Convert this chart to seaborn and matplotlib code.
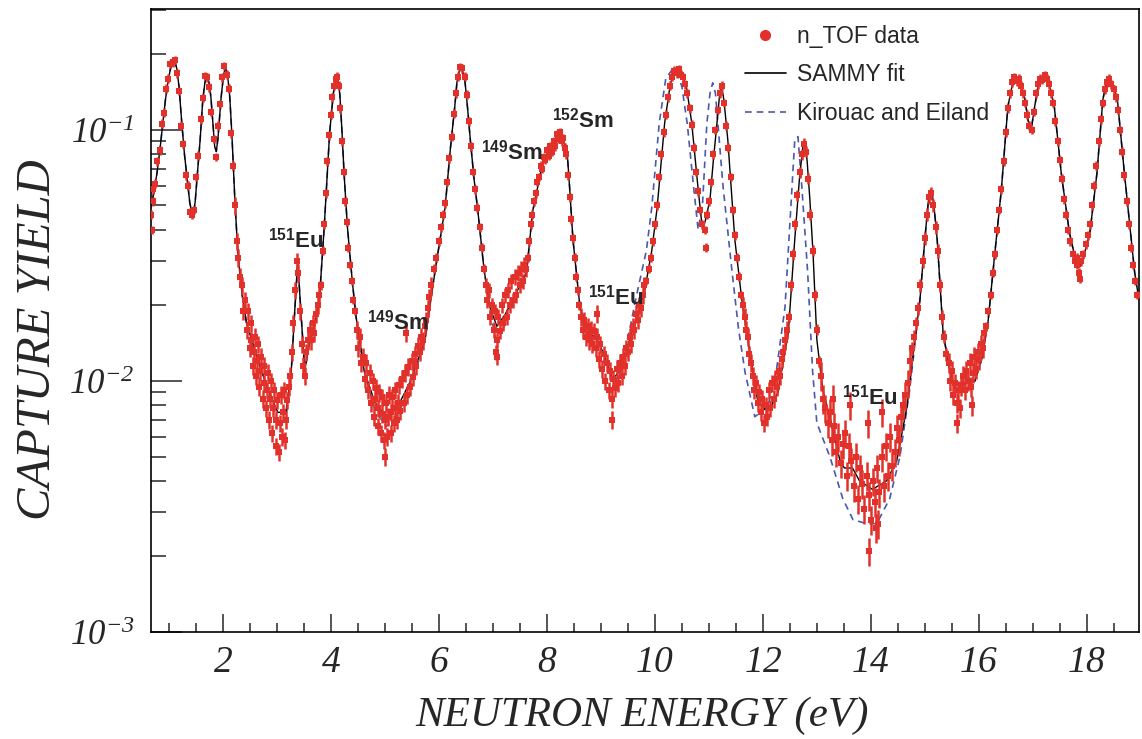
import numpy as np
import pandas as pd
import matplotlib
matplotlib.use("Agg")
import matplotlib.pyplot as plt
import seaborn as sns
from matplotlib.lines import Line2D
from matplotlib.ticker import FixedLocator, MultipleLocator, FuncFormatter, NullFormatter

# ---------------- data ----------------
# SAMMY fit (energy eV, capture yield)
sammy = [(0.65, 0.048), (0.71, 0.056), (0.77, 0.067), (0.83, 0.085), (0.88, 0.107), (0.93, 0.133),
         (0.98, 0.158), (1.02, 0.175), (1.06, 0.187), (1.10, 0.188), (1.14, 0.175), (1.18, 0.148),
         (1.23, 0.107), (1.28, 0.080), (1.32, 0.067), (1.38, 0.051), (1.44, 0.045), (1.48, 0.052),
         (1.51, 0.063), (1.57, 0.091), (1.62, 0.132), (1.66, 0.155), (1.70, 0.165), (1.74, 0.152),
         (1.77, 0.135), (1.81, 0.105), (1.84, 0.086), (1.87, 0.082), (1.90, 0.092), (1.96, 0.135),
         (2.00, 0.162), (2.04, 0.177), (2.08, 0.165), (2.12, 0.135), (2.16, 0.095), (2.21, 0.055),
         (2.27, 0.032), (2.35, 0.022), (2.43, 0.017), (2.62, 0.0125), (2.81, 0.0095), (3.01, 0.0075),
         (3.16, 0.0075), (3.26, 0.011), (3.33, 0.020), (3.38, 0.030), (3.43, 0.020), (3.51, 0.011),
         (3.59, 0.014), (3.67, 0.016), (3.78, 0.021), (3.87, 0.041), (3.97, 0.097), (4.04, 0.140),
         (4.08, 0.158), (4.12, 0.162), (4.16, 0.138), (4.20, 0.098), (4.24, 0.066), (4.30, 0.041),
         (4.39, 0.025), (4.46, 0.018), (4.61, 0.011), (4.81, 0.0082), (5.02, 0.0072), (5.22, 0.0078),
         (5.47, 0.0100), (5.74, 0.0146), (5.92, 0.027), (6.11, 0.049), (6.21, 0.085), (6.29, 0.124),
         (6.33, 0.155), (6.38, 0.175), (6.43, 0.172), (6.48, 0.155), (6.53, 0.120), (6.58, 0.090),
         (6.65, 0.063), (6.72, 0.047), (6.83, 0.028), (6.94, 0.0197), (7.07, 0.0165), (7.23, 0.0185),
         (7.36, 0.021), (7.62, 0.027), (7.73, 0.047), (7.92, 0.074), (8.02, 0.081), (8.12, 0.088),
         (8.20, 0.094), (8.29, 0.092), (8.37, 0.083), (8.42, 0.058), (8.48, 0.0365), (8.61, 0.0197),
         (8.74, 0.0155), (8.89, 0.0150), (9.04, 0.0130), (9.22, 0.0101), (9.34, 0.0110), (9.53, 0.0146),
         (9.66, 0.018), (9.81, 0.023), (9.94, 0.033), (10.04, 0.049), (10.18, 0.107), (10.29, 0.155),
         (10.40, 0.170), (10.49, 0.168), (10.58, 0.150), (10.68, 0.107), (10.80, 0.058), (10.86, 0.044),
         (10.90, 0.041), (10.95, 0.045), (11.02, 0.053), (11.08, 0.075), (11.15, 0.107), (11.20, 0.140),
         (11.24, 0.148), (11.28, 0.130), (11.35, 0.091), (11.48, 0.0365), (11.61, 0.021), (11.72, 0.0146),
         (11.90, 0.0084), (12.04, 0.0077), (12.16, 0.0080), (12.28, 0.0090), (12.47, 0.0155),
         (12.59, 0.0365), (12.68, 0.065), (12.74, 0.085), (12.78, 0.089), (12.82, 0.075), (12.87, 0.053),
         (12.93, 0.032), (13.00, 0.0146), (13.11, 0.0092), (13.24, 0.0072), (13.43, 0.0048),
         (13.51, 0.0045), (13.66, 0.0045), (13.79, 0.0040), (14.03, 0.0037), (14.29, 0.0040),
         (14.48, 0.0048), (14.67, 0.0079), (14.78, 0.0125), (14.91, 0.021), (15.00, 0.0365),
         (15.07, 0.053), (15.12, 0.058), (15.17, 0.050), (15.23, 0.0365), (15.34, 0.0155), (15.47, 0.0108),
         (15.59, 0.0090), (15.78, 0.0100), (15.93, 0.0100), (16.05, 0.0121), (16.17, 0.017), (16.29, 0.031),
         (16.42, 0.058), (16.54, 0.124), (16.62, 0.150), (16.70, 0.158), (16.78, 0.150), (16.85, 0.134),
         (16.92, 0.108), (16.98, 0.103), (17.04, 0.125), (17.12, 0.158), (17.25, 0.163), (17.32, 0.148),
         (17.40, 0.124), (17.53, 0.067), (17.68, 0.039), (17.80, 0.030), (17.87, 0.0285), (17.94, 0.031),
         (18.06, 0.039), (18.19, 0.067), (18.30, 0.132), (18.36, 0.152), (18.43, 0.158), (18.50, 0.150),
         (18.57, 0.132), (18.70, 0.067), (18.89, 0.027), (18.97, 0.021)]

# Kirouac and Eiland: equal to the SAMMY curve except at these energies ...
kirouac_overrides = {3.01: 0.0068, 3.16: 0.0070, 4.81: 0.0076, 5.02: 0.0066, 5.22: 0.0072, 5.47: 0.0095,
                     6.94: 0.0190, 7.07: 0.0140, 7.23: 0.0170, 9.22: 0.0098, 9.34: 0.0105}
# ... and in the 9.4-14.95 eV range, where it follows its own shape
kirouac_mid = [(9.53, 0.0160), (9.66, 0.022), (9.84, 0.033), (9.94, 0.049), (10.08, 0.107), (10.20, 0.160),
               (10.32, 0.174), (10.42, 0.168), (10.50, 0.148), (10.60, 0.105), (10.72, 0.058), (10.80, 0.040),
               (10.88, 0.050), (10.96, 0.105), (11.02, 0.140), (11.07, 0.154), (11.12, 0.140), (11.16, 0.110),
               (11.26, 0.060), (11.43, 0.027), (11.55, 0.016), (11.67, 0.0108), (11.85, 0.0072),
               (12.09, 0.0079), (12.25, 0.0110), (12.41, 0.0197), (12.52, 0.050), (12.59, 0.091),
               (12.65, 0.094), (12.72, 0.060), (12.83, 0.027), (12.92, 0.011), (13.00, 0.0068),
               (13.24, 0.0050), (13.48, 0.0034), (13.67, 0.0028), (13.93, 0.0027), (14.11, 0.0027),
               (14.35, 0.0034), (14.54, 0.0050), (14.72, 0.0092), (14.91, 0.021)]
kirouac_mid_range = (9.4, 14.95)

# n_TOF data points (energy eV, yield), one list per energy region
data_A = [(0.66, 0.046), (0.67, 0.040), (0.69, 0.052), (0.70, 0.058), (0.74, 0.061), (0.78, 0.075),
          (0.82, 0.083), (0.86, 0.106), (0.90, 0.117), (0.94, 0.146), (0.98, 0.160), (1.02, 0.183),
          (1.06, 0.186), (1.10, 0.190), (1.14, 0.168), (1.18, 0.143), (1.22, 0.104), (1.26, 0.088),
          (1.30, 0.066), (1.34, 0.060), (1.38, 0.047), (1.42, 0.046), (1.46, 0.048), (1.50, 0.065),
          (1.54, 0.079), (1.58, 0.110), (1.62, 0.134), (1.66, 0.164), (1.70, 0.162), (1.74, 0.148),
          (1.78, 0.118), (1.82, 0.092), (1.86, 0.078), (1.90, 0.104), (1.94, 0.127), (1.98, 0.162),
          (2.02, 0.180), (2.06, 0.166), (2.10, 0.146), (2.14, 0.097), (2.18, 0.072)]
data_B = [(2.22, 0.050), (2.25, 0.036), (2.28, 0.031), (2.31, 0.026), (2.34, 0.024), (2.37, 0.019),
          (2.40, 0.021), (2.43, 0.016), (2.46, 0.019), (2.49, 0.0135), (2.52, 0.017), (2.55, 0.0115),
          (2.58, 0.015), (2.61, 0.0105), (2.64, 0.014), (2.67, 0.0095), (2.70, 0.0125), (2.73, 0.0085),
          (2.76, 0.0115), (2.79, 0.0078), (2.82, 0.0108), (2.85, 0.0070), (2.88, 0.0100), (2.91, 0.0062),
          (2.94, 0.0092), (2.97, 0.0055), (3.00, 0.0084), (3.03, 0.0052), (3.06, 0.0088), (3.09, 0.0060),
          (3.12, 0.0092), (3.15, 0.0058), (3.18, 0.0084), (3.21, 0.0095), (3.24, 0.0105), (3.27, 0.013),
          (3.30, 0.017), (3.33, 0.023), (3.36, 0.030), (3.39, 0.027), (3.42, 0.019), (3.45, 0.014),
          (3.48, 0.0115), (3.51, 0.0105), (3.54, 0.013), (3.57, 0.0145), (3.60, 0.0160), (3.63, 0.0145),
          (3.66, 0.0170), (3.69, 0.0155), (3.72, 0.0185), (3.75, 0.020), (3.78, 0.022),
          (2.505, 0.0145), (2.565, 0.013), (2.625, 0.012), (2.685, 0.0110), (2.745, 0.0098),
          (2.805, 0.0092), (2.865, 0.0085), (2.925, 0.0078), (2.985, 0.0070), (3.045, 0.0068),
          (3.105, 0.0075), (3.165, 0.0070)]
data_C = [(3.81, 0.024), (3.84, 0.033), (3.87, 0.042), (3.90, 0.056), (3.93, 0.075), (3.96, 0.095),
          (3.99, 0.115), (4.02, 0.135), (4.05, 0.150), (4.08, 0.160), (4.11, 0.163), (4.14, 0.150),
          (4.17, 0.122), (4.20, 0.090), (4.23, 0.068), (4.26, 0.052), (4.29, 0.043), (4.32, 0.034),
          (4.35, 0.029), (4.38, 0.025), (4.41, 0.021), (4.44, 0.019)]
data_D = [(4.47, 0.016), (4.50, 0.0135), (4.53, 0.0150), (4.56, 0.0118), (4.59, 0.0125), (4.62, 0.0102),
          (4.65, 0.0118), (4.68, 0.0092), (4.71, 0.0108), (4.74, 0.0082), (4.77, 0.0100), (4.80, 0.0072),
          (4.83, 0.0094), (4.86, 0.0066), (4.89, 0.0090), (4.92, 0.0062), (4.95, 0.0086), (4.98, 0.0058),
          (5.01, 0.0082), (5.04, 0.0060), (5.07, 0.0088), (5.10, 0.0062), (5.13, 0.0086), (5.16, 0.0068),
          (5.19, 0.0092), (5.22, 0.0070), (5.25, 0.0096), (5.28, 0.0076), (5.31, 0.0102), (5.34, 0.0082),
          (5.37, 0.0108), (5.40, 0.0088), (5.43, 0.0114), (5.46, 0.0095), (5.49, 0.0120), (5.52, 0.0104),
          (5.55, 0.0128), (5.58, 0.0115), (5.61, 0.0138), (5.64, 0.0130), (5.67, 0.0150), (5.70, 0.0145),
          (5.73, 0.0165), (5.76, 0.0175), (5.79, 0.0195), (5.82, 0.0215), (5.85, 0.0240),
          (4.815, 0.0085), (4.875, 0.0078), (4.935, 0.0074), (4.995, 0.0070), (5.055, 0.0072),
          (5.115, 0.0075), (5.175, 0.0078), (5.235, 0.0082), (5.38, 0.0155), (5.00, 0.0050)]
data_E = [(5.91, 0.028), (5.95, 0.031), (5.99, 0.036), (6.03, 0.041), (6.07, 0.046), (6.11, 0.051),
          (6.15, 0.062), (6.19, 0.077), (6.23, 0.094), (6.27, 0.116), (6.31, 0.140), (6.35, 0.163),
          (6.39, 0.178), (6.43, 0.176), (6.47, 0.163), (6.51, 0.138), (6.55, 0.108), (6.59, 0.086),
          (6.63, 0.068), (6.67, 0.058), (6.71, 0.049), (6.75, 0.041), (6.79, 0.034), (6.83, 0.028)]
data_F = [(6.86, 0.024), (6.89, 0.021), (6.92, 0.023), (6.95, 0.018), (6.98, 0.020), (7.01, 0.016),
          (7.04, 0.019), (7.07, 0.0145), (7.10, 0.018), (7.13, 0.0158), (7.16, 0.020), (7.19, 0.017),
          (7.22, 0.022), (7.25, 0.018), (7.28, 0.023), (7.31, 0.020), (7.34, 0.025), (7.37, 0.021),
          (7.40, 0.026), (7.43, 0.022), (7.46, 0.027), (7.49, 0.024), (7.52, 0.028), (7.55, 0.025),
          (7.58, 0.029), (7.61, 0.028), (7.05, 0.0130), (7.08, 0.0125)]
data_G = [(7.64, 0.031), (7.67, 0.036), (7.70, 0.042), (7.73, 0.046), (7.76, 0.052), (7.79, 0.056),
          (7.82, 0.062), (7.85, 0.065), (7.88, 0.072), (7.91, 0.070), (7.94, 0.078), (7.97, 0.076),
          (8.00, 0.083), (8.03, 0.079), (8.06, 0.086), (8.09, 0.082), (8.12, 0.090), (8.15, 0.086),
          (8.18, 0.096), (8.21, 0.092), (8.24, 0.098), (8.27, 0.090), (8.30, 0.093), (8.33, 0.085),
          (8.36, 0.080), (8.39, 0.066), (8.42, 0.054), (8.45, 0.044), (8.48, 0.037), (8.51, 0.031),
          (8.54, 0.026), (8.57, 0.023), (8.60, 0.020)]
data_H = [(8.63, 0.018), (8.66, 0.0160), (8.69, 0.0175), (8.72, 0.0150), (8.75, 0.0165), (8.78, 0.0145),
          (8.81, 0.0160), (8.84, 0.0140), (8.87, 0.0158), (8.90, 0.0135), (8.93, 0.0150), (8.96, 0.0122),
          (8.99, 0.0140), (9.02, 0.0112), (9.05, 0.0128), (9.08, 0.0100), (9.11, 0.0118), (9.14, 0.0092),
          (9.17, 0.0110), (9.20, 0.0085), (9.23, 0.0102), (9.26, 0.0094), (9.29, 0.0112), (9.32, 0.0098),
          (9.35, 0.0118), (9.38, 0.0105), (9.41, 0.0125), (9.44, 0.0115), (9.47, 0.0135), (9.50, 0.0130),
          (9.53, 0.0150), (9.56, 0.0140), (9.59, 0.0165), (9.62, 0.0160), (9.65, 0.0185), (9.68, 0.0175),
          (9.71, 0.020), (9.74, 0.0195), (9.77, 0.022), (9.80, 0.024), (8.92, 0.0185), (9.21, 0.0070)]
data_I = [(9.84, 0.025), (9.88, 0.028), (9.92, 0.031), (9.96, 0.036), (10.00, 0.042), (10.04, 0.050),
          (10.08, 0.065), (10.12, 0.080), (10.16, 0.098), (10.20, 0.115), (10.24, 0.135), (10.28, 0.150),
          (10.32, 0.163), (10.36, 0.172), (10.40, 0.168), (10.44, 0.175), (10.48, 0.166), (10.52, 0.162),
          (10.56, 0.152), (10.60, 0.140), (10.64, 0.122), (10.68, 0.105), (10.72, 0.085), (10.76, 0.068),
          (10.80, 0.057), (10.84, 0.048), (10.88, 0.042), (10.92, 0.040), (10.96, 0.046), (11.00, 0.052),
          (11.04, 0.062), (11.08, 0.080), (11.12, 0.100), (11.16, 0.120), (11.20, 0.140), (11.24, 0.150),
          (11.28, 0.128), (11.32, 0.104), (11.36, 0.085), (11.40, 0.065), (11.44, 0.048), (11.48, 0.038),
          (11.52, 0.031), (11.56, 0.026), (11.60, 0.022), (10.95, 0.034)]
data_J = [(11.63, 0.020), (11.66, 0.018), (11.69, 0.0160), (11.72, 0.0150), (11.75, 0.0128), (11.78, 0.0118),
          (11.81, 0.0105), (11.84, 0.0092), (11.87, 0.0098), (11.90, 0.0082), (11.93, 0.0090), (11.96, 0.0075),
          (11.99, 0.0085), (12.02, 0.0068), (12.05, 0.0080), (12.08, 0.0072), (12.11, 0.0092), (12.14, 0.0078),
          (12.17, 0.0098), (12.20, 0.0085), (12.23, 0.0102), (12.26, 0.0095), (12.29, 0.0110), (12.32, 0.0105),
          (12.35, 0.0122), (12.38, 0.0130), (12.41, 0.0145), (12.44, 0.0160)]
data_K = [(12.48, 0.018), (12.52, 0.024), (12.56, 0.032), (12.60, 0.042), (12.64, 0.055), (12.68, 0.068),
          (12.72, 0.080), (12.76, 0.088), (12.80, 0.082), (12.84, 0.064), (12.88, 0.046), (12.92, 0.033),
          (12.96, 0.022), (13.00, 0.0160), (13.04, 0.0120)]
data_L = [(13.08, 0.0105), (13.12, 0.0085), (13.16, 0.0078), (13.20, 0.0068), (13.24, 0.0075), (13.28, 0.0058),
          (13.32, 0.0066), (13.36, 0.0052), (13.40, 0.0060), (13.44, 0.0047), (13.48, 0.0056), (13.52, 0.0062),
          (13.56, 0.0042), (13.60, 0.0055), (13.64, 0.0048), (13.68, 0.0038), (13.72, 0.0050), (13.76, 0.0034),
          (13.80, 0.0045), (13.84, 0.0039), (13.88, 0.0031), (13.92, 0.0042), (13.96, 0.0035), (14.00, 0.0028),
          (14.04, 0.0040), (14.08, 0.0033), (14.12, 0.0045), (14.16, 0.0036), (14.20, 0.0050), (14.24, 0.0038),
          (14.28, 0.0055), (14.32, 0.0042), (14.36, 0.0060), (14.40, 0.0046), (14.44, 0.0052), (14.48, 0.0065),
          (14.52, 0.0058), (14.56, 0.0072), (14.60, 0.0080), (14.64, 0.0088), (14.68, 0.0098), (14.72, 0.0120),
          (13.97, 0.0021), (13.62, 0.0080), (13.94, 0.0068), (14.21, 0.0075), (13.30, 0.0085), (14.10, 0.0026),
          (14.14, 0.0027)]
data_M = [(14.76, 0.0135), (14.80, 0.0150), (14.84, 0.0170), (14.88, 0.0195), (14.92, 0.024), (14.96, 0.030),
          (15.00, 0.037), (15.04, 0.046), (15.08, 0.054), (15.12, 0.056), (15.16, 0.050), (15.20, 0.041),
          (15.24, 0.033), (15.28, 0.024), (15.32, 0.018), (15.36, 0.0150), (15.40, 0.0128)]
data_N = [(15.44, 0.0118), (15.47, 0.0100), (15.50, 0.0110), (15.53, 0.0088), (15.56, 0.0098), (15.59, 0.0082),
          (15.62, 0.0092), (15.65, 0.0078), (15.68, 0.0096), (15.71, 0.0105), (15.74, 0.0092), (15.77, 0.0110),
          (15.80, 0.0100), (15.83, 0.0118), (15.86, 0.0095), (15.89, 0.0108), (15.92, 0.0125), (15.95, 0.0112),
          (15.98, 0.0130), (16.01, 0.0122), (16.04, 0.0140), (16.07, 0.0135), (16.10, 0.0155),
          (15.60, 0.0068), (15.88, 0.0080)]
data_O = [(16.14, 0.0165), (16.18, 0.019), (16.22, 0.022), (16.26, 0.027), (16.30, 0.032), (16.34, 0.040),
          (16.38, 0.048), (16.42, 0.058), (16.46, 0.075), (16.50, 0.098), (16.54, 0.122), (16.58, 0.140),
          (16.62, 0.155), (16.66, 0.162), (16.70, 0.156), (16.74, 0.160), (16.78, 0.150), (16.82, 0.140),
          (16.86, 0.128), (16.90, 0.115), (16.94, 0.104), (16.98, 0.100), (17.02, 0.118), (17.06, 0.140),
          (17.10, 0.152), (17.14, 0.160), (17.18, 0.158), (17.22, 0.165), (17.26, 0.160), (17.30, 0.152),
          (17.34, 0.140), (17.38, 0.128), (17.42, 0.108), (17.46, 0.090), (17.50, 0.076), (17.54, 0.064),
          (17.58, 0.053), (17.62, 0.046), (17.66, 0.040), (17.70, 0.036), (17.74, 0.032), (17.78, 0.030),
          (17.82, 0.029), (17.86, 0.027), (17.90, 0.030), (17.94, 0.032), (17.98, 0.035), (18.02, 0.038),
          (18.06, 0.042), (18.10, 0.050), (18.14, 0.060), (18.18, 0.072), (18.22, 0.090), (18.26, 0.110),
          (18.30, 0.128), (18.34, 0.145), (18.38, 0.155), (18.42, 0.160), (18.46, 0.152), (18.50, 0.145),
          (18.54, 0.135), (18.58, 0.120), (18.62, 0.100), (18.66, 0.082), (18.70, 0.066), (18.74, 0.052),
          (18.78, 0.042), (18.82, 0.034), (18.86, 0.029), (18.90, 0.025), (18.94, 0.022), (17.88, 0.0255),
          (17.82, 0.031)]
data_segments = [data_A, data_B, data_C, data_D, data_E, data_F, data_G, data_H, data_I, data_J,
                 data_K, data_L, data_M, data_N, data_O]
# relative uncertainty of the points in each region
data_rel_err = [0.04, 0.08, 0.04, 0.08, 0.04, 0.07, 0.04, 0.08, 0.04, 0.08, 0.05, 0.13, 0.06, 0.09, 0.04]

x_ticks = [2, 4, 6, 8, 10, 12, 14, 16, 18]
y_ticks = [1e-3, 1e-2, 1e-1]
y_tick_labels = ["10^{-3}", "10^{-2}", "10^{-1}"]

annotations = [("151", "Eu", 3.35, 0.0365), ("149", "Sm", 5.24, 0.0172), ("149", "Sm", 7.35, 0.0818),
               ("152", "Sm", 8.67, 0.1096), ("151", "Eu", 9.28, 0.0216), ("151", "Eu", 13.99, 0.00863)]

# ---------------- styling ----------------
sns.set_style("ticks")
plt.rcParams['font.family'] = ['Liberation Sans', 'DejaVu Sans']
plt.rcParams['mathtext.fontset'] = 'custom'
plt.rcParams['mathtext.it'] = 'Liberation Serif:italic'
plt.rcParams['mathtext.rm'] = 'Liberation Serif:italic'
plt.rcParams['mathtext.bf'] = 'Liberation Sans:bold'

RED = '#e2302b'
BLUE = '#4a58ad'

sammy_df = pd.DataFrame(sammy, columns=['E', 'Y'])
lo, hi = kirouac_mid_range
kir = [(e, kirouac_overrides.get(e, y)) for e, y in sammy if not (lo < e < hi)] + kirouac_mid
kir_df = pd.DataFrame(sorted(kir), columns=['E', 'Y'])

rows = []
for seg, rel in zip(data_segments, data_rel_err):
    for e, y in seg:
        rows.append((e, y, rel))
df = pd.DataFrame(rows, columns=['E', 'Y', 'rel'])

fig = plt.figure(figsize=(11.42, 7.39), dpi=100)
ax = fig.add_axes([151 / 1142, 1 - 632 / 739, (1139 - 151) / 1142, (632 - 9) / 739])
ax.set_yscale('log')

# fits
sns.lineplot(data=kir_df, x='E', y='Y', ax=ax, color=BLUE, lw=1.2, linestyle=(0, (4, 3)),
             estimator=None, sort=False, zorder=3)
sns.lineplot(data=sammy_df, x='E', y='Y', ax=ax, color='black', lw=1.0, estimator=None, sort=False,
             zorder=4)

# data with error bars, on top of the curves
ax.vlines(df['E'], df['Y'] * (1 - df['rel']), df['Y'] * (1 + df['rel']), color=RED, lw=1.8, zorder=5)
sns.scatterplot(data=df, x='E', y='Y', ax=ax, marker='s', s=15, color=RED, linewidth=0, zorder=5,
                legend=False)

ax.set_xlim(0.66, 18.97)
ax.set_ylim(1e-3, 0.303)

# ticks
ax.xaxis.set_major_locator(FixedLocator(x_ticks))
ax.xaxis.set_minor_locator(MultipleLocator(0.5))
ax.xaxis.set_major_formatter(FuncFormatter(lambda v, p: r'$\mathit{%d}$' % round(v)))
ax.yaxis.set_major_locator(FixedLocator(y_ticks))
minor_y = [m * 10.0 ** k for k in (-3, -2, -1) for m in range(2, 10)]
ax.yaxis.set_minor_locator(FixedLocator(minor_y))
ax.yaxis.set_minor_formatter(NullFormatter())
lab_map = dict(zip(y_ticks, y_tick_labels))
ax.yaxis.set_major_formatter(FuncFormatter(
    lambda v, p: r'$\mathit{' + lab_map.get(min(y_ticks, key=lambda t: abs(np.log10(t) - np.log10(v))), '') + '}$'))

ax.tick_params(axis='x', which='major', direction='in', length=13, width=1.1, labelsize=27, pad=9,
               top=False)
ax.tick_params(axis='x', which='minor', direction='in', length=6.5, width=1.1, top=False)
ax.tick_params(axis='y', which='major', direction='in', length=22, width=1.1, labelsize=25, pad=12,
               right=False)
ax.tick_params(axis='y', which='minor', direction='in', length=11, width=1.1, right=False)
for s in ax.spines.values():
    s.set_linewidth(1.2)
    s.set_color('black')

ax.set_xlabel('NEUTRON ENERGY (eV)', fontsize=31, fontfamily='Liberation Serif', fontstyle='italic')
ax.set_ylabel('CAPTURE YIELD', fontsize=35, fontfamily='Liberation Serif', fontstyle='italic')
ax.xaxis.set_label_coords(0.497, -0.104)
ax.yaxis.set_label_coords(-0.092, 0.469)

for iso, el, xe, yv in annotations:
    ax.text(xe, yv, r'$^{\mathbf{' + iso + r'}}\mathbf{' + el + '}$', fontsize=16, ha='center',
            va='center', zorder=6)

handles = [Line2D([], [], marker='o', ls='none', color=RED, markersize=7),
           Line2D([], [], color='black', lw=1.2),
           Line2D([], [], color=BLUE, lw=1.2, ls=(0, (4, 3)))]
ax.legend(handles, ['n_TOF data', 'SAMMY fit', 'Kirouac and Eiland'], loc='upper left',
          bbox_to_anchor=(0.601, 0.975), frameon=False, fontsize=16.5, handlelength=1.8,
          handletextpad=0.5, labelspacing=0.68, borderpad=0, borderaxespad=0)

fig.savefig('out.png', dpi=100)
